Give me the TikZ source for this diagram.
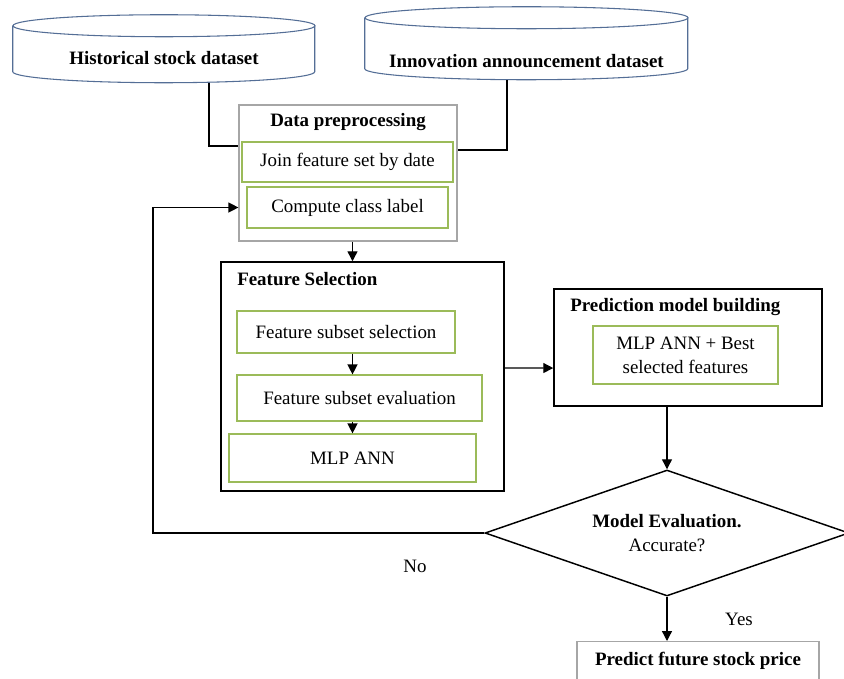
\documentclass[tikz,border=0pt]{standalone}
\usepackage{fontspec}
\setmainfont{Liberation Serif}
\usetikzlibrary{arrows.meta, positioning, shapes.geometric, calc}

\definecolor{boxgreen}{RGB}{155,187,89}
\definecolor{boxgray}{RGB}{166,166,166}
\definecolor{dbblue}{RGB}{84,110,150}

\begin{document}
\begin{tikzpicture}[
    x=0.75pt, y=-0.75pt,
    font=\fontsize{14.2}{18}\selectfont,
    >={Triangle[length=7.5pt, width=7.5pt]},
    dbase/.style={rectangle, inner sep=0pt, font=\fontsize{14.2}{18}\selectfont\bfseries},
    dbline/.style={draw=dbblue, line width=0.8pt},
    title/.style={font=\fontsize{14.2}{18}\selectfont\bfseries, inner sep=0pt},
    group/.style={rectangle, draw=black, line width=1.1pt, fill=white, inner sep=0pt},
    grouplight/.style={rectangle, draw=boxgray, line width=0.9pt, fill=white, inner sep=0pt},
    task/.style={rectangle, draw=boxgreen, line width=0.9pt, fill=white, inner sep=0pt, align=center},
    decision/.style={diamond, aspect=2.9, draw=black, line width=1.1pt, fill=white, inner sep=0pt, align=center},
    link/.style={line width=1pt}
  ]
    \useasboundingbox (0,0) rectangle (844,679);
    \fill[white] (0,0) rectangle (844,679);

    % data sources (text pushed below the top cap)
    \node[dbase, minimum width=226.5pt, minimum height=51pt, text height=26pt, text depth=3pt] (hist) at (164,49) {Historical stock dataset};
    \draw[dbline] (hist.north west) ++(0,11) -- ++(0,46)
      arc[start angle=180, end angle=360, x radius=113.25pt, y radius=8.25pt] -- ++(0,-46);
    \draw[dbline] ([yshift=-8.25pt]hist.north) ellipse [x radius=113.25pt, y radius=8.25pt];

    \node[dbase, minimum width=242.25pt, minimum height=54.75pt, text height=38.8pt, text depth=3pt] (innov) at (526.5,43.5) {Innovation announcement dataset};
    \draw[dbline] (innov.north west) ++(0,11) -- ++(0,51)
      arc[start angle=180, end angle=360, x radius=121.125pt, y radius=8.25pt] -- ++(0,-51);
    \draw[dbline] ([yshift=-8.25pt]innov.north) ellipse [x radius=121.125pt, y radius=8.25pt];

    % preprocessing
    \node[grouplight, minimum width=163.5pt, minimum height=102pt] (prep) at (348,173) {};
    \node[title] (preptitle) at (348,122) {Data preprocessing};
    \node[task, minimum width=158.25pt, minimum height=30pt] (join) at (347.5,162) {Join feature set by date};
    \node[task, minimum width=150.75pt, minimum height=30.75pt] (compute) at (347.5,207.5) {Compute class label};

    % feature selection
    \node[group, minimum width=212.25pt, minimum height=171.75pt] (feat) at (362.5,376.5) {};
    \node[title, anchor=west] (feattitle) at (237,279) {Feature Selection};
    \node[task, minimum width=163.5pt, minimum height=31.5pt] (fsel) at (346,332) {Feature subset selection};
    \node[task, minimum width=183.75pt, minimum height=34.5pt] (feval) at (359.5,398) {Feature subset evaluation};
    \node[task, minimum width=185.25pt, minimum height=36pt] (mlp) at (352.5,458) {MLP ANN};

    % model building and evaluation
    \node[group, minimum width=201pt, minimum height=87.75pt] (pred) at (688,347.5) {};
    \node[title, anchor=west] (predtitle) at (570,307) {Prediction model building};
    \node[task, minimum width=138.75pt, minimum height=43.5pt] (pbest) at (685.5,355) {MLP ANN + Best\\selected features};
    \node[decision, minimum width=273pt, minimum height=94.5pt] (eval) at (667,533) {\textbf{Model Evaluation.}\\Accurate?};
    \node[grouplight, anchor=north, minimum width=181.5pt, inner ysep=8pt, text depth=20pt, font=\fontsize{14.2}{18}\selectfont\bfseries] (out) at (698,641) {Predict future stock price};

    % connectors
    \draw[link] ([xshift=33.75pt]hist.south) |- ([yshift=20.25pt]prep.west);
    \draw[link] ([xshift=-14.6pt]innov.south) |- ([yshift=17.25pt]prep.east);
    \draw[link, ->] (prep.south -| mlp.north) -- (feat.north -| mlp.north);
    \draw[link, ->] (fsel.south -| mlp.north) -- (feval.north -| mlp.north);
    \draw[link, ->] (feval.south -| mlp.north) -- (mlp.north);
    \draw[link, ->] ([yshift=6.4pt]feat.east) -- ([yshift=-15.4pt]pred.west);
    \draw[link, ->] (pred.south -| eval.north) -- (eval.north);
    \draw[link, ->] (eval.south) -- (eval.south |- out.north);
    \coordinate (back) at (153,533);
    \draw[link, ->] (eval.west) -- (back) |- (compute.west -| prep.west);

    \node (no) at (415,566) {No};
    \node (yes) at (739,619) {Yes};
  \end{tikzpicture}
\end{document}
